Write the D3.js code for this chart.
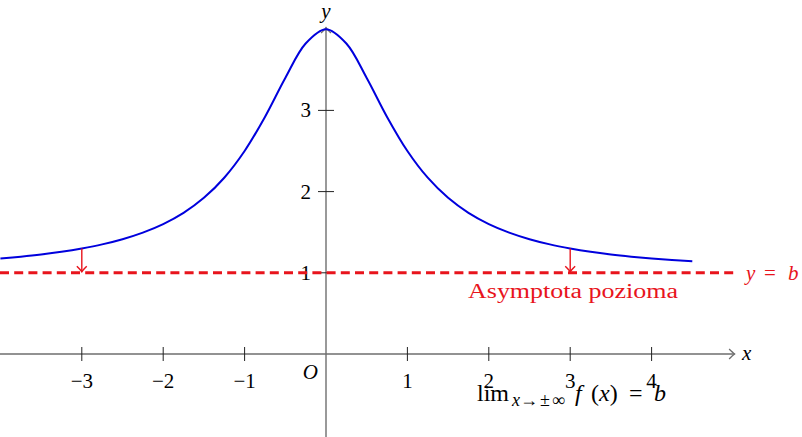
<!DOCTYPE html>
<html>
<head>
<meta charset="utf-8">
<script src="https://cdn.jsdelivr.net/npm/d3@7"></script>
<style>
body{margin:0;background:#fff;}
text{font-family:"Liberation Serif","DejaVu Serif",serif;}
</style>
</head>
<body>
<svg></svg>
<script>
var WIDTH = 802;
var HEIGHT = 437;

// points
var curveX = [-4,-3.75,-3.5,-3.25,-3,-2.75,-2.5,-2.25,-2,-1.75,-1.5,-1.25,-1,-0.75,-0.5,-0.25,0,
              0.25,0.5,0.75,1,1.25,1.5,1.75,2,2.25,2.5,2.75,3,3.25,3.5,3.75,4,4.25,4.5];
var curveY = [1.176,1.199,1.226,1.259,1.3,1.35,1.414,1.495,1.6,1.738,1.923,2.171,2.5,2.92,3.4,3.824,4,
              3.824,3.4,2.92,2.5,2.171,1.923,1.738,1.6,1.495,1.414,1.35,1.3,1.259,1.226,1.199,1.176,1.157,1.141];
var xTicks = [-3,-2,-1,1,2,3,4];
var yTicks = [1,2,3];
var asymptote = 1;
var arrowXs = [-3,3];
var arrowFrom = [1.3,1.3];

var svg = d3.select('svg').attr('width',WIDTH).attr('height',HEIGHT);

var xScale = d3.scaleLinear().domain([0,1]).range([326,407.4]);
var yScale = d3.scaleLinear().domain([0,1]).range([354,272.8]);

var grey = '#6e6e6e';
var red = '#e8141c';

// axes
svg.append('line').attr('x1',0).attr('x2',xScale(5.02))
  .attr('y1',yScale(0)).attr('y2',yScale(0))
  .attr('stroke',grey).attr('stroke-width',1.4);
svg.append('line').attr('x1',xScale(0)).attr('x2',xScale(0))
  .attr('y1',HEIGHT).attr('y2',yScale(4.02))
  .attr('stroke',grey).attr('stroke-width',1.4);

var arrowHead = function(g,x,y,dir,color,w){
  // dir: 'right','up','down'
  var s = 5.5;
  var p;
  if(dir=='right') p = 'M'+(x-s)+','+(y-s*0.9)+' Q'+(x-s*0.3)+','+(y-s*0.2)+' '+x+','+y+' Q'+(x-s*0.3)+','+(y+s*0.2)+' '+(x-s)+','+(y+s*0.9);
  if(dir=='up') p = 'M'+(x-s*0.9)+','+(y+s)+' Q'+(x-s*0.2)+','+(y+s*0.3)+' '+x+','+y+' Q'+(x+s*0.2)+','+(y+s*0.3)+' '+(x+s*0.9)+','+(y+s);
  if(dir=='down') p = 'M'+(x-s*0.9)+','+(y-s)+' Q'+(x-s*0.2)+','+(y-s*0.3)+' '+x+','+y+' Q'+(x+s*0.2)+','+(y-s*0.3)+' '+(x+s*0.9)+','+(y-s);
  g.append('path').attr('d',p).attr('fill','none').attr('stroke',color).attr('stroke-width',w);
};
arrowHead(svg,xScale(5.02),yScale(0),'right',grey,1.3);
arrowHead(svg,xScale(0),yScale(4.02),'up',grey,1.3);

// ticks
svg.selectAll('.xtick').data(xTicks).enter().append('line')
  .attr('x1',function(d){return xScale(d);}).attr('x2',function(d){return xScale(d);})
  .attr('y1',yScale(0)-7).attr('y2',yScale(0)+7)
  .attr('stroke','#222').attr('stroke-width',1);
svg.selectAll('.xlab').data(xTicks).enter().append('text')
  .attr('x',function(d){return xScale(d);}).attr('y',yScale(0)+34)
  .attr('text-anchor','middle').attr('font-size',21).attr('fill','#000')
  .text(function(d){return d<0 ? '\u2212'+(-d) : d;});

svg.selectAll('.ytick').data(yTicks).enter().append('line')
  .attr('x1',xScale(0)-8).attr('x2',xScale(0)+8)
  .attr('y1',function(d){return yScale(d);}).attr('y2',function(d){return yScale(d);})
  .attr('stroke','#222').attr('stroke-width',1);
svg.selectAll('.ylab').data(yTicks).enter().append('text')
  .attr('x',xScale(0)-15).attr('y',function(d){return yScale(d)+7;})
  .attr('text-anchor','end').attr('font-size',21).attr('fill','#000')
  .text(function(d){return d;});

svg.append('text').attr('x',xScale(0)-8).attr('y',yScale(0)+25)
  .attr('text-anchor','end').attr('font-size',21).attr('font-style','italic').text('O');
svg.append('text').attr('x',742).attr('y',yScale(0)+6)
  .attr('font-size',21).attr('font-style','italic').text('x');
svg.append('text').attr('x',xScale(0)).attr('y',18)
  .attr('text-anchor','middle').attr('font-size',21).attr('font-style','italic').text('y');

// asymptote
svg.append('line').attr('x1',0).attr('x2',xScale(5.02))
  .attr('y1',yScale(asymptote)).attr('y2',yScale(asymptote))
  .attr('stroke',red).attr('stroke-width',3).attr('stroke-dasharray','9,5.2');

var yb = svg.append('text').attr('y',yScale(asymptote)+7)
  .attr('font-size',21).attr('fill',red);
yb.append('tspan').attr('x',746).attr('font-style','italic').text('y');
yb.append('tspan').attr('x',764).text('=');
yb.append('tspan').attr('x',788).attr('font-style','italic').text('b');

svg.append('text').attr('x',573).attr('y',yScale(asymptote)+25)
  .attr('text-anchor','middle').attr('font-size',20).attr('fill',red)
  .attr('textLength',210).attr('lengthAdjust','spacingAndGlyphs')
  .text('Asymptota pozioma');

// curve
var pts = curveX.map(function(x,i){return [x,curveY[i]];});
var line = d3.line().x(function(d){return xScale(d[0]);}).y(function(d){return yScale(d[1]);})
  .curve(d3.curveCatmullRom);
svg.append('path').datum(pts).attr('d',line)
  .attr('fill','none').attr('stroke','#0000dd').attr('stroke-width',2);

// red arrows
arrowXs.forEach(function(x,i){
  svg.append('line').attr('x1',xScale(x)).attr('x2',xScale(x))
    .attr('y1',yScale(arrowFrom[i])).attr('y2',yScale(asymptote)-1)
    .attr('stroke',red).attr('stroke-width',1.4);
  arrowHead(svg,xScale(x),yScale(asymptote)-1,'down',red,1.4);
});

// limit text
var lim = svg.append('text').attr('y',401).attr('font-size',24).attr('fill','#000');
lim.append('tspan').attr('x',477).text('lim');
lim.append('tspan').attr('x',512).attr('dy',5).attr('font-size',18).attr('font-style','italic').text('x');
lim.append('tspan').attr('font-size',18).attr('letter-spacing',2).text('\u2192\u00b1\u221e');
lim.append('tspan').attr('x',575).attr('dy',-5).attr('font-style','italic').text('f');
lim.append('tspan').attr('x',591).text('(');
lim.append('tspan').attr('font-style','italic').text('x');
lim.append('tspan').text(')');
lim.append('tspan').attr('x',629).text('=');
lim.append('tspan').attr('x',654).attr('font-style','italic').text('b');
</script>
</body>
</html>
